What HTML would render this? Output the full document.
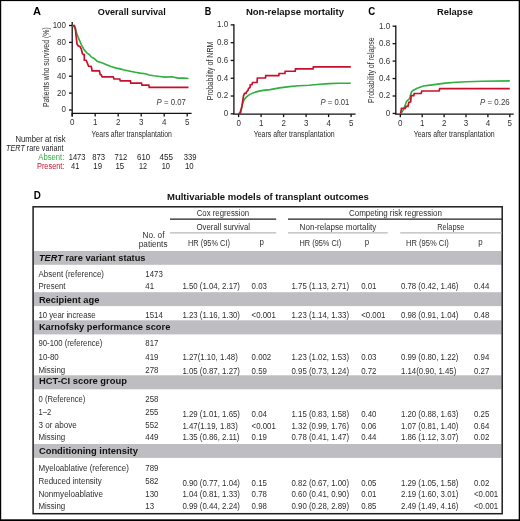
<!DOCTYPE html>
<html><head><meta charset="utf-8"><title>TERT rare variants and transplant outcomes</title>
<style>
html,body{margin:0;padding:0;background:#fff;width:520px;height:521px;overflow:hidden}
svg text{font-family:"Liberation Sans", sans-serif}
</style></head>
<body>
<svg width="520" height="521" viewBox="0 0 520 521" style="display:block;will-change:transform;font-family:'Liberation Sans', sans-serif">
<rect x="0.00" y="0.00" width="520.00" height="521.00" fill="#ffffff"/>
<rect x="0.00" y="0.00" width="520.00" height="1.10" fill="#000"/>
<rect x="0.00" y="0.00" width="1.20" height="521.00" fill="#000"/>
<rect x="518.70" y="0.00" width="1.30" height="521.00" fill="#000"/>
<rect x="0.00" y="519.30" width="520.00" height="1.70" fill="#000"/>
<text x="32.90" y="14.70" style="font-size:11px;font-weight:bold;fill:#000" textLength="8.00" lengthAdjust="spacingAndGlyphs">A</text>
<text x="204.80" y="14.70" style="font-size:11px;font-weight:bold;fill:#000" textLength="6.50" lengthAdjust="spacingAndGlyphs">B</text>
<text x="368.20" y="14.70" style="font-size:11px;font-weight:bold;fill:#000" textLength="7.00" lengthAdjust="spacingAndGlyphs">C</text>
<text x="33.80" y="199.10" style="font-size:10.5px;font-weight:bold;fill:#000" textLength="7.10" lengthAdjust="spacingAndGlyphs">D</text>
<text x="97.80" y="15.15" style="font-size:9.6px;font-weight:bold;fill:#111" textLength="67.90" lengthAdjust="spacingAndGlyphs">Overall survival</text>
<text x="245.90" y="15.15" style="font-size:9.6px;font-weight:bold;fill:#111" textLength="98.10" lengthAdjust="spacingAndGlyphs">Non-relapse mortality</text>
<text x="437.00" y="15.15" style="font-size:9.6px;font-weight:bold;fill:#111" textLength="36.00" lengthAdjust="spacingAndGlyphs">Relapse</text>
<line x1="72.20" y1="22.10" x2="72.20" y2="116.40" stroke="#111" stroke-width="1.3"/>
<line x1="71.60" y1="113.40" x2="191.60" y2="113.40" stroke="#111" stroke-width="1.3"/>
<line x1="69.00" y1="25.50" x2="72.20" y2="25.50" stroke="#111" stroke-width="1.3"/>
<line x1="69.00" y1="42.40" x2="72.20" y2="42.40" stroke="#111" stroke-width="1.3"/>
<line x1="69.00" y1="59.30" x2="72.20" y2="59.30" stroke="#111" stroke-width="1.3"/>
<line x1="69.00" y1="76.20" x2="72.20" y2="76.20" stroke="#111" stroke-width="1.3"/>
<line x1="69.00" y1="93.10" x2="72.20" y2="93.10" stroke="#111" stroke-width="1.3"/>
<line x1="69.00" y1="110.00" x2="72.20" y2="110.00" stroke="#111" stroke-width="1.3"/>
<line x1="72.20" y1="113.40" x2="72.20" y2="116.40" stroke="#111" stroke-width="1.3"/>
<line x1="95.20" y1="113.40" x2="95.20" y2="116.40" stroke="#111" stroke-width="1.3"/>
<line x1="118.20" y1="113.40" x2="118.20" y2="116.40" stroke="#111" stroke-width="1.3"/>
<line x1="141.20" y1="113.40" x2="141.20" y2="116.40" stroke="#111" stroke-width="1.3"/>
<line x1="164.20" y1="113.40" x2="164.20" y2="116.40" stroke="#111" stroke-width="1.3"/>
<line x1="187.20" y1="113.40" x2="187.20" y2="116.40" stroke="#111" stroke-width="1.3"/>
<text x="52.65" y="27.90" style="font-size:9.0px;fill:#333" textLength="13.35" lengthAdjust="spacingAndGlyphs">100</text>
<text x="57.10" y="44.80" style="font-size:9.0px;fill:#333" textLength="8.90" lengthAdjust="spacingAndGlyphs">80</text>
<text x="57.10" y="61.70" style="font-size:9.0px;fill:#333" textLength="8.90" lengthAdjust="spacingAndGlyphs">60</text>
<text x="57.10" y="78.60" style="font-size:9.0px;fill:#333" textLength="8.90" lengthAdjust="spacingAndGlyphs">40</text>
<text x="57.10" y="95.50" style="font-size:9.0px;fill:#333" textLength="8.90" lengthAdjust="spacingAndGlyphs">20</text>
<text x="61.55" y="112.40" style="font-size:9.0px;fill:#333" textLength="4.45" lengthAdjust="spacingAndGlyphs">0</text>
<text x="69.98" y="124.90" style="font-size:9.0px;fill:#333" textLength="4.45" lengthAdjust="spacingAndGlyphs">0</text>
<text x="92.98" y="124.90" style="font-size:9.0px;fill:#333" textLength="4.45" lengthAdjust="spacingAndGlyphs">1</text>
<text x="115.98" y="124.90" style="font-size:9.0px;fill:#333" textLength="4.45" lengthAdjust="spacingAndGlyphs">2</text>
<text x="138.98" y="124.90" style="font-size:9.0px;fill:#333" textLength="4.45" lengthAdjust="spacingAndGlyphs">3</text>
<text x="161.98" y="124.90" style="font-size:9.0px;fill:#333" textLength="4.45" lengthAdjust="spacingAndGlyphs">4</text>
<text x="184.98" y="124.90" style="font-size:9.0px;fill:#333" textLength="4.45" lengthAdjust="spacingAndGlyphs">5</text>
<g transform="translate(48.60,67.20) rotate(-90)"><text x="-39.90" y="0" style="font-size:8.4px;fill:#2e2e2e" textLength="79.80" lengthAdjust="spacingAndGlyphs">Patients who survived (%)</text></g>
<text x="91.50" y="137.10" style="font-size:8.5px;fill:#2a2a2a" textLength="80.40" lengthAdjust="spacingAndGlyphs">Years after transplantation</text>
<text x="156.60" y="104.60" style="font-size:8.2px;fill:#3a3a3a" textLength="29.20" lengthAdjust="spacingAndGlyphs"><tspan style="font-style:italic">P</tspan> = 0.07</text>
<line x1="233.90" y1="24.30" x2="233.90" y2="114.10" stroke="#111" stroke-width="1.3"/>
<line x1="233.30" y1="114.10" x2="355.60" y2="114.10" stroke="#111" stroke-width="1.3"/>
<line x1="230.70" y1="24.90" x2="233.90" y2="24.90" stroke="#111" stroke-width="1.3"/>
<line x1="230.70" y1="42.68" x2="233.90" y2="42.68" stroke="#111" stroke-width="1.3"/>
<line x1="230.70" y1="60.46" x2="233.90" y2="60.46" stroke="#111" stroke-width="1.3"/>
<line x1="230.70" y1="78.24" x2="233.90" y2="78.24" stroke="#111" stroke-width="1.3"/>
<line x1="230.70" y1="96.02" x2="233.90" y2="96.02" stroke="#111" stroke-width="1.3"/>
<line x1="230.70" y1="113.80" x2="233.90" y2="113.80" stroke="#111" stroke-width="1.3"/>
<line x1="238.60" y1="114.10" x2="238.60" y2="117.10" stroke="#111" stroke-width="1.3"/>
<line x1="261.10" y1="114.10" x2="261.10" y2="117.10" stroke="#111" stroke-width="1.3"/>
<line x1="283.60" y1="114.10" x2="283.60" y2="117.10" stroke="#111" stroke-width="1.3"/>
<line x1="306.10" y1="114.10" x2="306.10" y2="117.10" stroke="#111" stroke-width="1.3"/>
<line x1="328.60" y1="114.10" x2="328.60" y2="117.10" stroke="#111" stroke-width="1.3"/>
<line x1="351.10" y1="114.10" x2="351.10" y2="117.10" stroke="#111" stroke-width="1.3"/>
<text x="216.98" y="27.30" style="font-size:9.0px;fill:#333" textLength="11.12" lengthAdjust="spacingAndGlyphs">1.0</text>
<text x="216.98" y="45.08" style="font-size:9.0px;fill:#333" textLength="11.12" lengthAdjust="spacingAndGlyphs">0.8</text>
<text x="216.98" y="62.86" style="font-size:9.0px;fill:#333" textLength="11.12" lengthAdjust="spacingAndGlyphs">0.6</text>
<text x="216.98" y="80.64" style="font-size:9.0px;fill:#333" textLength="11.12" lengthAdjust="spacingAndGlyphs">0.4</text>
<text x="216.98" y="98.42" style="font-size:9.0px;fill:#333" textLength="11.12" lengthAdjust="spacingAndGlyphs">0.2</text>
<text x="223.65" y="116.20" style="font-size:9.0px;fill:#333" textLength="4.45" lengthAdjust="spacingAndGlyphs">0</text>
<text x="236.38" y="126.20" style="font-size:9.0px;fill:#333" textLength="4.45" lengthAdjust="spacingAndGlyphs">0</text>
<text x="258.88" y="126.20" style="font-size:9.0px;fill:#333" textLength="4.45" lengthAdjust="spacingAndGlyphs">1</text>
<text x="281.38" y="126.20" style="font-size:9.0px;fill:#333" textLength="4.45" lengthAdjust="spacingAndGlyphs">2</text>
<text x="303.88" y="126.20" style="font-size:9.0px;fill:#333" textLength="4.45" lengthAdjust="spacingAndGlyphs">3</text>
<text x="326.38" y="126.20" style="font-size:9.0px;fill:#333" textLength="4.45" lengthAdjust="spacingAndGlyphs">4</text>
<text x="348.88" y="126.20" style="font-size:9.0px;fill:#333" textLength="4.45" lengthAdjust="spacingAndGlyphs">5</text>
<g transform="translate(213.20,70.95) rotate(-90)"><text x="-29.35" y="0" style="font-size:8.4px;fill:#2e2e2e" textLength="58.70" lengthAdjust="spacingAndGlyphs">Probability of NRM</text></g>
<text x="253.70" y="137.10" style="font-size:8.5px;fill:#2a2a2a" textLength="81.00" lengthAdjust="spacingAndGlyphs">Years after transplantation</text>
<text x="320.60" y="104.80" style="font-size:8.2px;fill:#3a3a3a" textLength="28.80" lengthAdjust="spacingAndGlyphs"><tspan style="font-style:italic">P</tspan> = 0.01</text>
<line x1="395.80" y1="25.60" x2="395.80" y2="114.20" stroke="#111" stroke-width="1.3"/>
<line x1="395.20" y1="114.20" x2="513.70" y2="114.20" stroke="#111" stroke-width="1.3"/>
<line x1="392.60" y1="26.20" x2="395.80" y2="26.20" stroke="#111" stroke-width="1.3"/>
<line x1="392.60" y1="43.65" x2="395.80" y2="43.65" stroke="#111" stroke-width="1.3"/>
<line x1="392.60" y1="61.10" x2="395.80" y2="61.10" stroke="#111" stroke-width="1.3"/>
<line x1="392.60" y1="78.55" x2="395.80" y2="78.55" stroke="#111" stroke-width="1.3"/>
<line x1="392.60" y1="96.00" x2="395.80" y2="96.00" stroke="#111" stroke-width="1.3"/>
<line x1="392.60" y1="113.45" x2="395.80" y2="113.45" stroke="#111" stroke-width="1.3"/>
<line x1="400.30" y1="114.20" x2="400.30" y2="117.20" stroke="#111" stroke-width="1.3"/>
<line x1="422.20" y1="114.20" x2="422.20" y2="117.20" stroke="#111" stroke-width="1.3"/>
<line x1="444.10" y1="114.20" x2="444.10" y2="117.20" stroke="#111" stroke-width="1.3"/>
<line x1="466.00" y1="114.20" x2="466.00" y2="117.20" stroke="#111" stroke-width="1.3"/>
<line x1="487.90" y1="114.20" x2="487.90" y2="117.20" stroke="#111" stroke-width="1.3"/>
<line x1="509.80" y1="114.20" x2="509.80" y2="117.20" stroke="#111" stroke-width="1.3"/>
<text x="379.08" y="28.60" style="font-size:9.0px;fill:#333" textLength="11.12" lengthAdjust="spacingAndGlyphs">1.0</text>
<text x="379.08" y="46.05" style="font-size:9.0px;fill:#333" textLength="11.12" lengthAdjust="spacingAndGlyphs">0.8</text>
<text x="379.08" y="63.50" style="font-size:9.0px;fill:#333" textLength="11.12" lengthAdjust="spacingAndGlyphs">0.6</text>
<text x="379.08" y="80.95" style="font-size:9.0px;fill:#333" textLength="11.12" lengthAdjust="spacingAndGlyphs">0.4</text>
<text x="379.08" y="98.40" style="font-size:9.0px;fill:#333" textLength="11.12" lengthAdjust="spacingAndGlyphs">0.2</text>
<text x="385.75" y="115.85" style="font-size:9.0px;fill:#333" textLength="4.45" lengthAdjust="spacingAndGlyphs">0</text>
<text x="398.08" y="126.40" style="font-size:9.0px;fill:#333" textLength="4.45" lengthAdjust="spacingAndGlyphs">0</text>
<text x="419.98" y="126.40" style="font-size:9.0px;fill:#333" textLength="4.45" lengthAdjust="spacingAndGlyphs">1</text>
<text x="441.88" y="126.40" style="font-size:9.0px;fill:#333" textLength="4.45" lengthAdjust="spacingAndGlyphs">2</text>
<text x="463.78" y="126.40" style="font-size:9.0px;fill:#333" textLength="4.45" lengthAdjust="spacingAndGlyphs">3</text>
<text x="485.68" y="126.40" style="font-size:9.0px;fill:#333" textLength="4.45" lengthAdjust="spacingAndGlyphs">4</text>
<text x="507.58" y="126.40" style="font-size:9.0px;fill:#333" textLength="4.45" lengthAdjust="spacingAndGlyphs">5</text>
<g transform="translate(373.60,70.10) rotate(-90)"><text x="-32.80" y="0" style="font-size:8.4px;fill:#2e2e2e" textLength="65.60" lengthAdjust="spacingAndGlyphs">Probability of relapse</text></g>
<text x="413.70" y="137.10" style="font-size:8.5px;fill:#2a2a2a" textLength="81.00" lengthAdjust="spacingAndGlyphs">Years after transplantation</text>
<text x="480.00" y="104.80" style="font-size:8.2px;fill:#3a3a3a" textLength="29.70" lengthAdjust="spacingAndGlyphs"><tspan style="font-style:italic">P</tspan> = 0.26</text>
<polyline points="72.40,25.50 74.30,26.80 75.50,29.70 78.20,37.40 81.20,44.30 84.00,49.60 87.10,53.10 89.40,54.60 91.30,56.90 94.00,58.50 97.10,61.20 99.40,61.90 102.50,63.10 107.10,65.00 110.90,66.50 116.30,68.10 120.00,68.90 124.30,70.00 130.00,71.20 135.40,72.30 140.00,73.10 145.40,73.70 149.20,75.00 153.80,75.80 159.60,76.50 165.00,77.10 171.90,76.80 178.10,78.10 183.50,78.10 188.50,78.50" fill="none" stroke="#2eb03d" stroke-width="1.6" stroke-linejoin="miter" stroke-linecap="butt"/>
<polyline points="238.60,113.80 239.50,113.00 241.00,109.90 242.50,103.90 244.00,99.90 246.00,97.40 249.00,94.90 253.00,92.90 258.00,91.40 263.00,90.40 270.00,89.60 279.60,87.90 289.20,86.60 298.80,85.80 309.00,85.30 319.60,84.20 329.20,83.60 338.80,83.20 350.80,83.20" fill="none" stroke="#2eb03d" stroke-width="1.6" stroke-linejoin="miter" stroke-linecap="butt"/>
<polyline points="400.60,113.75 403.40,109.80 405.70,103.70 406.50,101.40 409.50,98.70 410.70,94.50 411.50,91.80 413.40,90.20 417.20,88.30 423.40,86.00 430.30,85.10 436.00,84.40 445.20,83.10 456.00,82.30 466.80,81.80 482.20,81.20 509.80,80.90" fill="none" stroke="#2eb03d" stroke-width="1.6" stroke-linejoin="miter" stroke-linecap="butt"/>
<polyline points="72.40,25.60 74.30,25.60 75.50,28.90 75.80,33.50 77.00,43.90 78.20,45.80 80.10,46.60 81.20,48.90 82.40,53.50 83.50,54.60 84.30,54.60 84.30,60.00 86.30,60.40 88.60,66.20 91.30,66.50 92.10,70.80 99.40,70.80 100.20,74.60 101.30,75.00 102.10,76.90 113.20,76.90 114.00,78.80 119.80,79.00 120.30,80.90 130.40,80.90 130.80,83.10 141.50,83.10 141.90,85.20 148.80,85.20 149.20,87.30 188.50,87.30" fill="none" stroke="#c8102e" stroke-width="1.7" stroke-linejoin="miter" stroke-linecap="butt"/>
<polyline points="238.60,113.80 240.50,112.90 242.00,105.90 243.50,95.90 244.50,93.40 246.00,93.40 246.50,91.90 248.00,90.40 248.50,88.50 250.00,87.50 250.20,85.00 252.00,84.50 252.50,82.50 257.00,82.50 257.40,78.00 265.40,78.00 265.80,75.60 278.80,75.60 279.10,73.50 284.90,73.50 285.20,71.25 295.20,71.25 295.50,68.90 313.00,68.90 313.40,66.90 350.80,66.90" fill="none" stroke="#c8102e" stroke-width="1.7" stroke-linejoin="miter" stroke-linecap="butt"/>
<polyline points="400.60,113.75 401.50,108.30 405.30,108.30 406.10,106.40 408.00,106.40 408.80,102.50 410.70,101.80 411.10,95.60 413.80,95.60 414.20,93.50 421.10,93.50 421.80,91.00 439.10,91.00 439.70,88.70 509.80,88.70" fill="none" stroke="#c8102e" stroke-width="1.7" stroke-linejoin="miter" stroke-linecap="butt"/>
<text x="15.50" y="141.70" style="font-size:8.4px;fill:#222" textLength="50.00" lengthAdjust="spacingAndGlyphs">Number at risk</text>
<text x="6.1" y="150.6" style="font-size:8.4px;fill:#222" textLength="57.4" lengthAdjust="spacingAndGlyphs"><tspan style="font-style:italic">TERT</tspan> rare variant</text>
<text x="38.30" y="159.60" style="font-size:8.5px;fill:#2eb03d" textLength="26.00" lengthAdjust="spacingAndGlyphs">Absent:</text>
<text x="37.00" y="168.70" style="font-size:8.5px;fill:#c8102e" textLength="27.40" lengthAdjust="spacingAndGlyphs">Present:</text>
<text x="68.80" y="160.40" style="font-size:8.9px;fill:#222" textLength="16.60" lengthAdjust="spacingAndGlyphs">1473</text>
<text x="92.20" y="160.40" style="font-size:8.9px;fill:#222" textLength="12.90" lengthAdjust="spacingAndGlyphs">873</text>
<text x="114.60" y="160.40" style="font-size:8.9px;fill:#222" textLength="12.70" lengthAdjust="spacingAndGlyphs">712</text>
<text x="137.10" y="160.40" style="font-size:8.9px;fill:#222" textLength="13.10" lengthAdjust="spacingAndGlyphs">610</text>
<text x="159.60" y="160.40" style="font-size:8.9px;fill:#222" textLength="13.50" lengthAdjust="spacingAndGlyphs">455</text>
<text x="183.80" y="160.40" style="font-size:8.9px;fill:#222" textLength="12.70" lengthAdjust="spacingAndGlyphs">339</text>
<text x="71.10" y="168.70" style="font-size:8.9px;fill:#222" textLength="8.30" lengthAdjust="spacingAndGlyphs">41</text>
<text x="93.30" y="168.70" style="font-size:8.9px;fill:#222" textLength="8.70" lengthAdjust="spacingAndGlyphs">19</text>
<text x="115.50" y="168.70" style="font-size:8.9px;fill:#222" textLength="8.70" lengthAdjust="spacingAndGlyphs">15</text>
<text x="139.10" y="168.70" style="font-size:8.9px;fill:#222" textLength="8.00" lengthAdjust="spacingAndGlyphs">12</text>
<text x="161.70" y="168.70" style="font-size:8.9px;fill:#222" textLength="8.30" lengthAdjust="spacingAndGlyphs">10</text>
<text x="184.90" y="168.70" style="font-size:8.9px;fill:#222" textLength="8.70" lengthAdjust="spacingAndGlyphs">10</text>
<text x="167.00" y="199.50" style="font-size:9.5px;font-weight:bold;fill:#111" textLength="201.80" lengthAdjust="spacingAndGlyphs">Multivariable models of transplant outcomes</text>
<rect x="33.90" y="251.00" width="467.60" height="13.80" fill="#bebdc2"/>
<rect x="33.90" y="292.20" width="467.60" height="13.90" fill="#bebdc2"/>
<rect x="33.90" y="320.30" width="467.60" height="14.10" fill="#bebdc2"/>
<rect x="33.90" y="375.30" width="467.60" height="14.00" fill="#bebdc2"/>
<rect x="33.90" y="444.00" width="467.60" height="13.90" fill="#bebdc2"/>
<rect x="33.1" y="206.8" width="469.1" height="306.9" fill="none" stroke="#1e1e1e" stroke-width="1.5"/>
<line x1="170.00" y1="219.15" x2="276.20" y2="219.15" stroke="#1e1e1e" stroke-width="1.3"/>
<line x1="288.00" y1="219.15" x2="502.00" y2="219.15" stroke="#1e1e1e" stroke-width="1.3"/>
<line x1="170.00" y1="232.90" x2="276.20" y2="232.90" stroke="#b9b9bd" stroke-width="1.3"/>
<line x1="288.00" y1="232.90" x2="387.80" y2="232.90" stroke="#b9b9bd" stroke-width="1.3"/>
<line x1="400.20" y1="232.90" x2="502.00" y2="232.90" stroke="#b9b9bd" stroke-width="1.3"/>
<text x="196.70" y="216.00" style="font-size:8.5px;fill:#2e2e2e" textLength="52.50" lengthAdjust="spacingAndGlyphs">Cox regression</text>
<text x="348.90" y="216.00" style="font-size:8.5px;fill:#2e2e2e" textLength="93.00" lengthAdjust="spacingAndGlyphs">Competing risk regression</text>
<text x="196.50" y="229.50" style="font-size:8.5px;fill:#2e2e2e" textLength="53.50" lengthAdjust="spacingAndGlyphs">Overall survival</text>
<text x="299.60" y="229.60" style="font-size:8.5px;fill:#2e2e2e" textLength="76.80" lengthAdjust="spacingAndGlyphs">Non-relapse mortality</text>
<text x="437.20" y="229.60" style="font-size:8.5px;fill:#2e2e2e" textLength="27.10" lengthAdjust="spacingAndGlyphs">Relapse</text>
<text x="142.50" y="237.90" style="font-size:8.5px;fill:#2e2e2e" textLength="22.00" lengthAdjust="spacingAndGlyphs">No. of</text>
<text x="138.75" y="246.50" style="font-size:8.5px;fill:#2e2e2e" textLength="28.75" lengthAdjust="spacingAndGlyphs">patients</text>
<text x="188.00" y="245.50" style="font-size:8.5px;fill:#2e2e2e" textLength="42.00" lengthAdjust="spacingAndGlyphs">HR (95% CI)</text>
<text x="299.50" y="245.50" style="font-size:8.5px;fill:#2e2e2e" textLength="41.80" lengthAdjust="spacingAndGlyphs">HR (95% CI)</text>
<text x="406.00" y="245.50" style="font-size:8.5px;fill:#2e2e2e" textLength="42.80" lengthAdjust="spacingAndGlyphs">HR (95% CI)</text>
<text x="259.60" y="245.20" style="font-size:8.5px;fill:#2e2e2e" textLength="4.39" lengthAdjust="spacingAndGlyphs">p</text>
<text x="364.80" y="245.20" style="font-size:8.5px;fill:#2e2e2e" textLength="4.39" lengthAdjust="spacingAndGlyphs">p</text>
<text x="478.30" y="245.20" style="font-size:8.5px;fill:#2e2e2e" textLength="4.39" lengthAdjust="spacingAndGlyphs">p</text>
<text x="38.9" y="260.80" style="font-size:9.3px;font-weight:bold;fill:#111" textLength="106.55" lengthAdjust="spacingAndGlyphs"><tspan style="font-style:italic">TERT</tspan> rare variant status</text>
<text x="38.9" y="303.30" style="font-size:9.3px;font-weight:bold;fill:#111" textLength="60.50" lengthAdjust="spacingAndGlyphs">Recipient age</text>
<text x="38.9" y="330.20" style="font-size:9.3px;font-weight:bold;fill:#111" textLength="131.40" lengthAdjust="spacingAndGlyphs">Karnofsky performance score</text>
<text x="38.9" y="384.40" style="font-size:9.3px;font-weight:bold;fill:#111" textLength="88.00" lengthAdjust="spacingAndGlyphs">HCT-CI score group</text>
<text x="38.9" y="454.20" style="font-size:9.3px;font-weight:bold;fill:#111" textLength="99.00" lengthAdjust="spacingAndGlyphs">Conditioning intensity</text>
<text x="38.50" y="276.92" style="font-size:8.5px;fill:#2e2e2e" textLength="65.50" lengthAdjust="spacingAndGlyphs">Absent (reference)</text>
<text x="145.30" y="276.92" style="font-size:8.5px;fill:#2e2e2e" textLength="17.46" lengthAdjust="spacingAndGlyphs">1473</text>
<text x="38.50" y="288.92" style="font-size:8.5px;fill:#2e2e2e" textLength="27.05" lengthAdjust="spacingAndGlyphs">Present</text>
<text x="145.30" y="288.92" style="font-size:8.5px;fill:#2e2e2e" textLength="8.73" lengthAdjust="spacingAndGlyphs">41</text>
<text x="182.40" y="288.92" style="font-size:8.5px;fill:#2e2e2e" textLength="57.61" lengthAdjust="spacingAndGlyphs">1.50 (1.04, 2.17)</text>
<text x="251.60" y="288.92" style="font-size:8.5px;fill:#2e2e2e" textLength="15.28" lengthAdjust="spacingAndGlyphs">0.03</text>
<text x="291.50" y="288.92" style="font-size:8.5px;fill:#2e2e2e" textLength="57.61" lengthAdjust="spacingAndGlyphs">1.75 (1.13, 2.71)</text>
<text x="361.20" y="288.92" style="font-size:8.5px;fill:#2e2e2e" textLength="15.28" lengthAdjust="spacingAndGlyphs">0.01</text>
<text x="400.90" y="288.92" style="font-size:8.5px;fill:#2e2e2e" textLength="57.61" lengthAdjust="spacingAndGlyphs">0.78 (0.42, 1.46)</text>
<text x="474.00" y="288.92" style="font-size:8.5px;fill:#2e2e2e" textLength="15.28" lengthAdjust="spacingAndGlyphs">0.44</text>
<text x="38.50" y="317.92" style="font-size:8.5px;fill:#2e2e2e" textLength="57.10" lengthAdjust="spacingAndGlyphs">10 year increase</text>
<text x="145.30" y="317.92" style="font-size:8.5px;fill:#2e2e2e" textLength="17.46" lengthAdjust="spacingAndGlyphs">1514</text>
<text x="182.40" y="317.92" style="font-size:8.5px;fill:#2e2e2e" textLength="57.61" lengthAdjust="spacingAndGlyphs">1.23 (1.16, 1.30)</text>
<text x="251.60" y="317.92" style="font-size:8.5px;fill:#2e2e2e" textLength="24.23" lengthAdjust="spacingAndGlyphs">&lt;0.001</text>
<text x="291.50" y="317.92" style="font-size:8.5px;fill:#2e2e2e" textLength="57.61" lengthAdjust="spacingAndGlyphs">1.23 (1.14, 1.33)</text>
<text x="361.20" y="317.92" style="font-size:8.5px;fill:#2e2e2e" textLength="24.23" lengthAdjust="spacingAndGlyphs">&lt;0.001</text>
<text x="400.90" y="317.92" style="font-size:8.5px;fill:#2e2e2e" textLength="57.61" lengthAdjust="spacingAndGlyphs">0.98 (0.91, 1.04)</text>
<text x="474.00" y="317.92" style="font-size:8.5px;fill:#2e2e2e" textLength="15.28" lengthAdjust="spacingAndGlyphs">0.48</text>
<text x="38.50" y="346.22" style="font-size:8.5px;fill:#2e2e2e" textLength="63.90" lengthAdjust="spacingAndGlyphs">90-100 (reference)</text>
<text x="145.30" y="346.22" style="font-size:8.5px;fill:#2e2e2e" textLength="13.10" lengthAdjust="spacingAndGlyphs">817</text>
<text x="38.50" y="360.12" style="font-size:8.5px;fill:#2e2e2e" textLength="20.20" lengthAdjust="spacingAndGlyphs">10-80</text>
<text x="145.30" y="360.12" style="font-size:8.5px;fill:#2e2e2e" textLength="13.10" lengthAdjust="spacingAndGlyphs">419</text>
<text x="182.40" y="360.22" style="font-size:8.5px;fill:#2e2e2e" textLength="55.43" lengthAdjust="spacingAndGlyphs">1.27(1.10, 1.48)</text>
<text x="251.60" y="360.22" style="font-size:8.5px;fill:#2e2e2e" textLength="19.64" lengthAdjust="spacingAndGlyphs">0.002</text>
<text x="291.50" y="360.22" style="font-size:8.5px;fill:#2e2e2e" textLength="57.61" lengthAdjust="spacingAndGlyphs">1.23 (1.02, 1.53)</text>
<text x="361.20" y="360.22" style="font-size:8.5px;fill:#2e2e2e" textLength="15.28" lengthAdjust="spacingAndGlyphs">0.03</text>
<text x="400.90" y="360.22" style="font-size:8.5px;fill:#2e2e2e" textLength="57.61" lengthAdjust="spacingAndGlyphs">0.99 (0.80, 1.22)</text>
<text x="474.00" y="360.22" style="font-size:8.5px;fill:#2e2e2e" textLength="15.28" lengthAdjust="spacingAndGlyphs">0.94</text>
<text x="38.50" y="373.42" style="font-size:8.5px;fill:#2e2e2e" textLength="26.70" lengthAdjust="spacingAndGlyphs">Missing</text>
<text x="145.30" y="373.42" style="font-size:8.5px;fill:#2e2e2e" textLength="13.10" lengthAdjust="spacingAndGlyphs">278</text>
<text x="182.40" y="373.62" style="font-size:8.5px;fill:#2e2e2e" textLength="57.61" lengthAdjust="spacingAndGlyphs">1.05 (0.87, 1.27)</text>
<text x="251.60" y="373.62" style="font-size:8.5px;fill:#2e2e2e" textLength="15.28" lengthAdjust="spacingAndGlyphs">0.59</text>
<text x="291.50" y="373.62" style="font-size:8.5px;fill:#2e2e2e" textLength="57.61" lengthAdjust="spacingAndGlyphs">0.95 (0.73, 1.24)</text>
<text x="361.20" y="373.62" style="font-size:8.5px;fill:#2e2e2e" textLength="15.28" lengthAdjust="spacingAndGlyphs">0.72</text>
<text x="400.90" y="373.62" style="font-size:8.5px;fill:#2e2e2e" textLength="55.43" lengthAdjust="spacingAndGlyphs">1.14(0.90, 1.45)</text>
<text x="474.00" y="373.62" style="font-size:8.5px;fill:#2e2e2e" textLength="15.28" lengthAdjust="spacingAndGlyphs">0.27</text>
<text x="38.50" y="402.22" style="font-size:8.5px;fill:#2e2e2e" textLength="46.90" lengthAdjust="spacingAndGlyphs">0 (Reference)</text>
<text x="145.30" y="402.22" style="font-size:8.5px;fill:#2e2e2e" textLength="13.10" lengthAdjust="spacingAndGlyphs">258</text>
<text x="38.50" y="415.32" style="font-size:8.5px;fill:#2e2e2e" textLength="12.70" lengthAdjust="spacingAndGlyphs">1–2</text>
<text x="145.30" y="415.32" style="font-size:8.5px;fill:#2e2e2e" textLength="13.10" lengthAdjust="spacingAndGlyphs">255</text>
<text x="182.40" y="416.72" style="font-size:8.5px;fill:#2e2e2e" textLength="57.61" lengthAdjust="spacingAndGlyphs">1.29 (1.01, 1.65)</text>
<text x="251.60" y="416.72" style="font-size:8.5px;fill:#2e2e2e" textLength="15.28" lengthAdjust="spacingAndGlyphs">0.04</text>
<text x="291.50" y="416.72" style="font-size:8.5px;fill:#2e2e2e" textLength="57.61" lengthAdjust="spacingAndGlyphs">1.15 (0.83, 1.58)</text>
<text x="361.20" y="416.72" style="font-size:8.5px;fill:#2e2e2e" textLength="15.28" lengthAdjust="spacingAndGlyphs">0.40</text>
<text x="400.90" y="416.72" style="font-size:8.5px;fill:#2e2e2e" textLength="57.61" lengthAdjust="spacingAndGlyphs">1.20 (0.88, 1.63)</text>
<text x="474.00" y="416.72" style="font-size:8.5px;fill:#2e2e2e" textLength="15.28" lengthAdjust="spacingAndGlyphs">0.25</text>
<text x="38.50" y="428.22" style="font-size:8.5px;fill:#2e2e2e" textLength="38.30" lengthAdjust="spacingAndGlyphs">3 or above</text>
<text x="145.30" y="428.22" style="font-size:8.5px;fill:#2e2e2e" textLength="13.10" lengthAdjust="spacingAndGlyphs">552</text>
<text x="182.40" y="428.72" style="font-size:8.5px;fill:#2e2e2e" textLength="55.43" lengthAdjust="spacingAndGlyphs">1.47(1.19, 1.83)</text>
<text x="251.60" y="428.72" style="font-size:8.5px;fill:#2e2e2e" textLength="24.23" lengthAdjust="spacingAndGlyphs">&lt;0.001</text>
<text x="291.50" y="428.72" style="font-size:8.5px;fill:#2e2e2e" textLength="57.61" lengthAdjust="spacingAndGlyphs">1.32 (0.99, 1.76)</text>
<text x="361.20" y="428.72" style="font-size:8.5px;fill:#2e2e2e" textLength="15.28" lengthAdjust="spacingAndGlyphs">0.06</text>
<text x="400.90" y="428.72" style="font-size:8.5px;fill:#2e2e2e" textLength="57.61" lengthAdjust="spacingAndGlyphs">1.07 (0.81, 1.40)</text>
<text x="474.00" y="428.72" style="font-size:8.5px;fill:#2e2e2e" textLength="15.28" lengthAdjust="spacingAndGlyphs">0.64</text>
<text x="38.50" y="440.32" style="font-size:8.5px;fill:#2e2e2e" textLength="26.70" lengthAdjust="spacingAndGlyphs">Missing</text>
<text x="145.30" y="440.32" style="font-size:8.5px;fill:#2e2e2e" textLength="13.10" lengthAdjust="spacingAndGlyphs">449</text>
<text x="182.40" y="440.22" style="font-size:8.5px;fill:#2e2e2e" textLength="57.02" lengthAdjust="spacingAndGlyphs">1.35 (0.86, 2.11)</text>
<text x="251.60" y="440.22" style="font-size:8.5px;fill:#2e2e2e" textLength="15.28" lengthAdjust="spacingAndGlyphs">0.19</text>
<text x="291.50" y="440.22" style="font-size:8.5px;fill:#2e2e2e" textLength="57.61" lengthAdjust="spacingAndGlyphs">0.78 (0.41, 1.47)</text>
<text x="361.20" y="440.22" style="font-size:8.5px;fill:#2e2e2e" textLength="15.28" lengthAdjust="spacingAndGlyphs">0.44</text>
<text x="400.90" y="440.22" style="font-size:8.5px;fill:#2e2e2e" textLength="57.61" lengthAdjust="spacingAndGlyphs">1.86 (1.12, 3.07)</text>
<text x="474.00" y="440.22" style="font-size:8.5px;fill:#2e2e2e" textLength="15.28" lengthAdjust="spacingAndGlyphs">0.02</text>
<text x="38.50" y="471.12" style="font-size:8.5px;fill:#2e2e2e" textLength="90.30" lengthAdjust="spacingAndGlyphs">Myeloablative (reference)</text>
<text x="145.30" y="471.12" style="font-size:8.5px;fill:#2e2e2e" textLength="13.10" lengthAdjust="spacingAndGlyphs">789</text>
<text x="38.50" y="484.02" style="font-size:8.5px;fill:#2e2e2e" textLength="63.30" lengthAdjust="spacingAndGlyphs">Reduced intensity</text>
<text x="145.30" y="484.02" style="font-size:8.5px;fill:#2e2e2e" textLength="13.10" lengthAdjust="spacingAndGlyphs">582</text>
<text x="182.40" y="485.72" style="font-size:8.5px;fill:#2e2e2e" textLength="57.61" lengthAdjust="spacingAndGlyphs">0.90 (0.77, 1.04)</text>
<text x="251.60" y="485.72" style="font-size:8.5px;fill:#2e2e2e" textLength="15.28" lengthAdjust="spacingAndGlyphs">0.15</text>
<text x="291.50" y="485.72" style="font-size:8.5px;fill:#2e2e2e" textLength="57.61" lengthAdjust="spacingAndGlyphs">0.82 (0.67, 1.00)</text>
<text x="361.20" y="485.72" style="font-size:8.5px;fill:#2e2e2e" textLength="15.28" lengthAdjust="spacingAndGlyphs">0.05</text>
<text x="400.90" y="485.72" style="font-size:8.5px;fill:#2e2e2e" textLength="57.61" lengthAdjust="spacingAndGlyphs">1.29 (1.05, 1.58)</text>
<text x="474.00" y="485.72" style="font-size:8.5px;fill:#2e2e2e" textLength="15.28" lengthAdjust="spacingAndGlyphs">0.02</text>
<text x="38.50" y="496.52" style="font-size:8.5px;fill:#2e2e2e" textLength="64.40" lengthAdjust="spacingAndGlyphs">Nonmyeloablative</text>
<text x="145.30" y="496.52" style="font-size:8.5px;fill:#2e2e2e" textLength="13.10" lengthAdjust="spacingAndGlyphs">130</text>
<text x="182.40" y="497.42" style="font-size:8.5px;fill:#2e2e2e" textLength="57.61" lengthAdjust="spacingAndGlyphs">1.04 (0.81, 1.33)</text>
<text x="251.60" y="497.42" style="font-size:8.5px;fill:#2e2e2e" textLength="15.28" lengthAdjust="spacingAndGlyphs">0.78</text>
<text x="291.50" y="497.42" style="font-size:8.5px;fill:#2e2e2e" textLength="57.61" lengthAdjust="spacingAndGlyphs">0.60 (0.41, 0.90)</text>
<text x="361.20" y="497.42" style="font-size:8.5px;fill:#2e2e2e" textLength="15.28" lengthAdjust="spacingAndGlyphs">0.01</text>
<text x="400.90" y="497.42" style="font-size:8.5px;fill:#2e2e2e" textLength="57.61" lengthAdjust="spacingAndGlyphs">2.19 (1.60, 3.01)</text>
<text x="474.00" y="497.42" style="font-size:8.5px;fill:#2e2e2e" textLength="24.23" lengthAdjust="spacingAndGlyphs">&lt;0.001</text>
<text x="38.50" y="509.02" style="font-size:8.5px;fill:#2e2e2e" textLength="26.70" lengthAdjust="spacingAndGlyphs">Missing</text>
<text x="145.30" y="509.02" style="font-size:8.5px;fill:#2e2e2e" textLength="8.73" lengthAdjust="spacingAndGlyphs">13</text>
<text x="182.40" y="508.92" style="font-size:8.5px;fill:#2e2e2e" textLength="57.61" lengthAdjust="spacingAndGlyphs">0.99 (0.44, 2.24)</text>
<text x="251.60" y="508.92" style="font-size:8.5px;fill:#2e2e2e" textLength="15.28" lengthAdjust="spacingAndGlyphs">0.98</text>
<text x="291.50" y="508.92" style="font-size:8.5px;fill:#2e2e2e" textLength="57.61" lengthAdjust="spacingAndGlyphs">0.90 (0.28, 2.89)</text>
<text x="361.20" y="508.92" style="font-size:8.5px;fill:#2e2e2e" textLength="15.28" lengthAdjust="spacingAndGlyphs">0.85</text>
<text x="400.90" y="508.92" style="font-size:8.5px;fill:#2e2e2e" textLength="57.61" lengthAdjust="spacingAndGlyphs">2.49 (1.49, 4.16)</text>
<text x="474.00" y="508.92" style="font-size:8.5px;fill:#2e2e2e" textLength="24.23" lengthAdjust="spacingAndGlyphs">&lt;0.001</text>
</svg>
</body></html>
